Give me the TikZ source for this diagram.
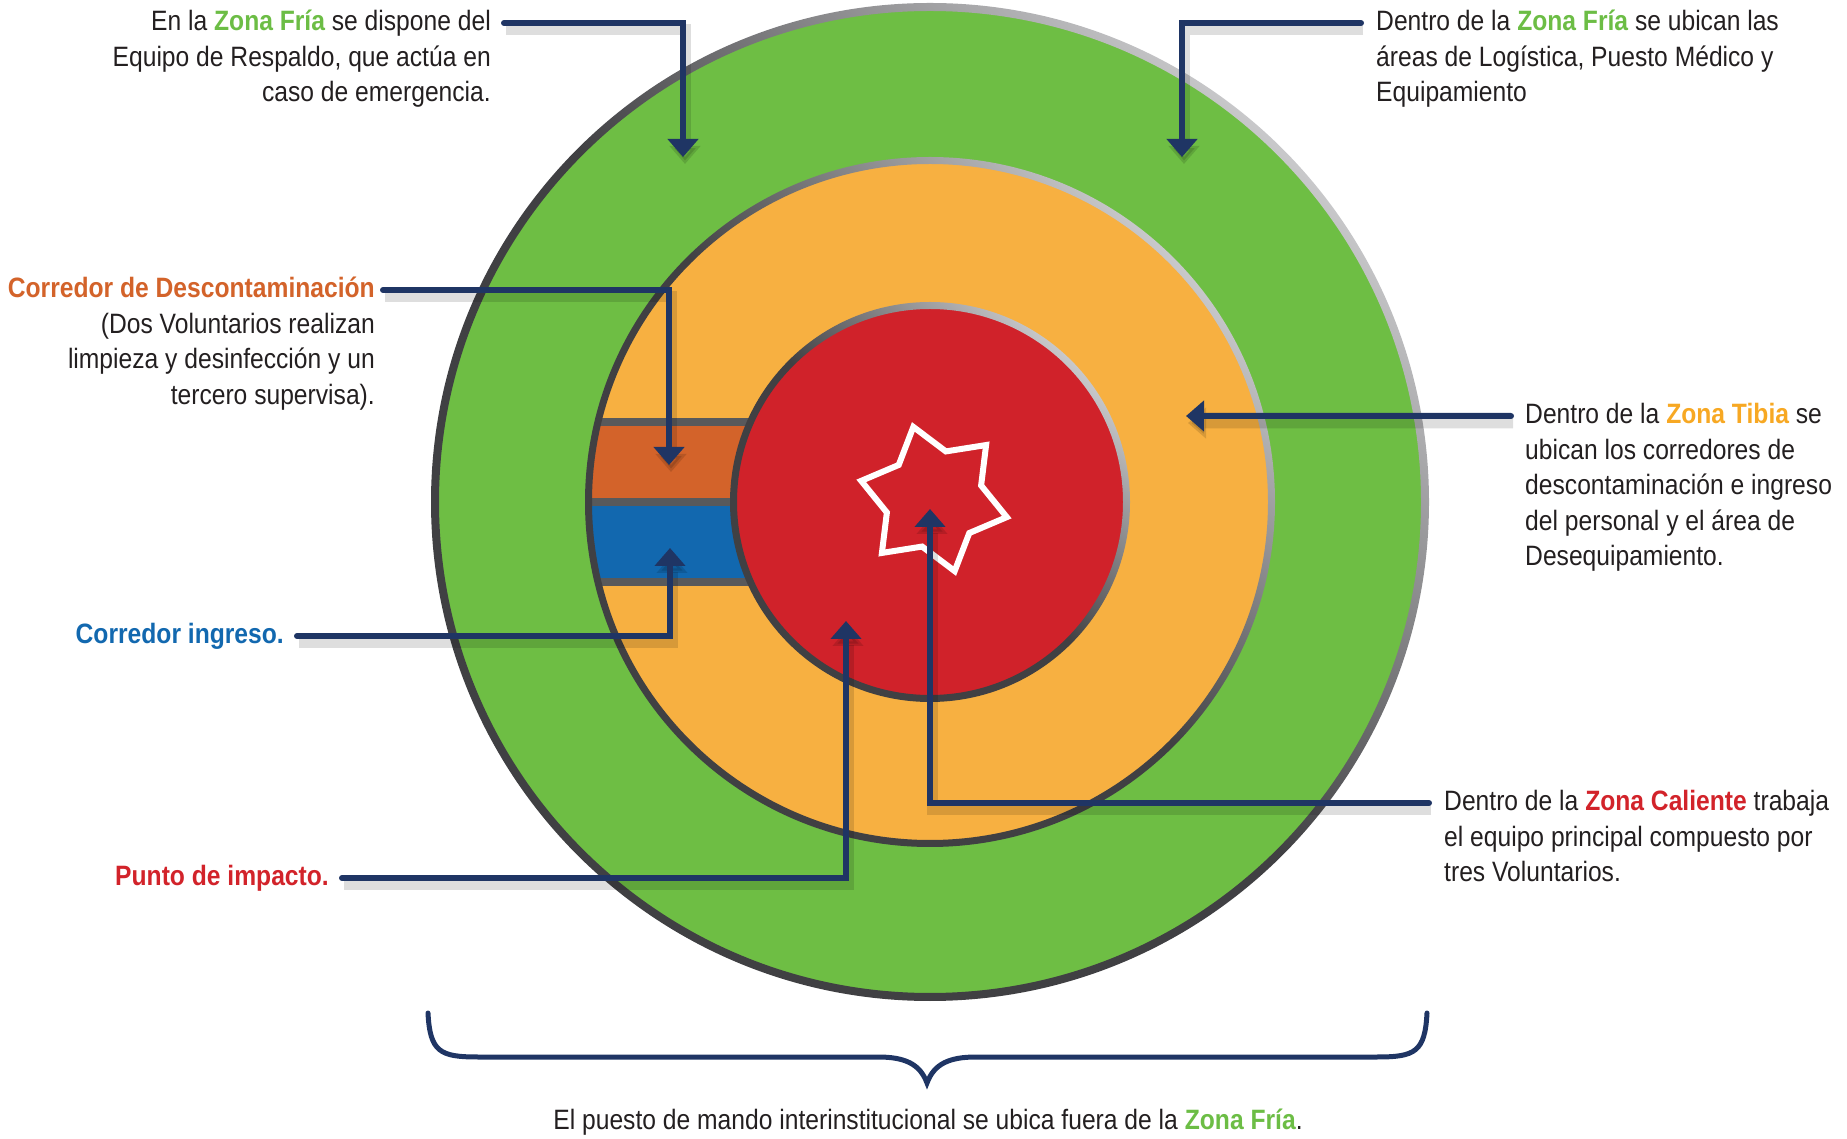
\documentclass[tikz,border=0pt]{standalone}
\usepackage{fontspec}
\setmainfont{Liberation Sans}[FakeStretch=0.88]
\usetikzlibrary{arrows.meta, shapes.geometric}

\definecolor{frio}{HTML}{6EBE44}
\definecolor{tibio}{HTML}{F7B041}
\definecolor{caliente}{HTML}{D0222A}
\definecolor{corrnaranja}{HTML}{D3632A}
\definecolor{corrazul}{HTML}{1268AF}
\definecolor{separa}{HTML}{58595B}
\definecolor{bordeoscuro}{HTML}{404043}
\definecolor{bordeclaro}{HTML}{C8C8CA}
\definecolor{marino}{HTML}{1F3564}
\definecolor{tinta}{HTML}{231F20}
\definecolor{txtfrio}{HTML}{6CBD45}
\definecolor{txttibio}{HTML}{F7A823}
\definecolor{txtcaliente}{HTML}{D2232A}

\newcommand\zona[2]{\textbf{\textcolor{#1}{#2}}}

\tikzset{
  borde/.style={top color=bordeclaro, bottom color=bordeoscuro, middle color=bordeoscuro, shading angle=-45},
  flecha/.style={draw=marino, line width=6bp, line cap=round, -{Triangle[width=30bp,length=18bp]},
    preaction={draw=black, opacity=.13, line width=11bp, transform canvas={shift={(2bp,-7bp)}}}},
  txt/.style={inner sep=0pt, text=tinta, font=\fontsize{28bp}{35.5bp}\selectfont},
  separador/.style={draw=separa, line width=8bp},
}

\begin{document}
\begin{tikzpicture}[x=1bp, y=1bp]
	\useasboundingbox (0,0) rectangle (1847,1138);
	\coordinate (centro) at (930,636);

	% zonas
	\fill[frio] (centro) circle (496);
	\shade[even odd rule, borde] (centro) circle (499) circle (491);
	\fill[tibio] (centro) circle (342);
	\begin{scope}
		\clip (centro) circle (339);
		\fill[corrnaranja] (560,636) rectangle (930,716);
		\fill[corrazul] (560,556) rectangle (930,636);
		\draw[separador] (560,716) -- (930,716);
		\draw[separador] (560,636) -- (930,636);
		\draw[separador] (560,556) -- (930,556);
	\end{scope}
	\shade[even odd rule, borde] (centro) circle (345) circle (338);
	\fill[caliente] (centro) circle (197);
	\shade[even odd rule, borde] (centro) circle (200) circle (193);
	\node[draw=white, line width=6bp, star, star points=6, star point ratio=1.53,
		minimum size=150bp, inner sep=0pt, shape border rotate=16] (estrella) at (934,639) {};

	% textos (base = ultima linea)
	\node[txt, align=right, anchor=base east] (respaldo) at (491,1036)
		{En la \zona{txtfrio}{Zona Fría} se dispone del\\Equipo de Respaldo, que actúa en\\caso de emergencia.};
	\node[txt, align=left, anchor=base west] (logistica) at (1376,1036)
		{Dentro de la \zona{txtfrio}{Zona Fría} se ubican las\\áreas de Logística, Puesto Médico y\\Equipamiento};
	\node[txt, align=right, anchor=base east] (descon) at (375,733.5)
		{\zona{corrnaranja}{Corredor de Descontaminación}\\(Dos Voluntarios realizan\\limpieza y desinfección y un\\tercero supervisa).};
	\node[txt, anchor=base east] (ingreso) at (284,494) {\zona{corrazul}{Corredor ingreso.}};
	\node[txt, anchor=base east] (punto) at (329,252) {\zona{txtcaliente}{Punto de impacto.}};
	\node[txt, align=left, anchor=base west] (tibia) at (1525,572)
		{Dentro de la \zona{txttibio}{Zona Tibia} se\\ubican los corredores de\\descontaminación e ingreso\\del personal y el área de\\Desequipamiento.};
	\node[txt, align=left, anchor=base west] (principal) at (1444,256)
		{Dentro de la \zona{txtcaliente}{Zona Caliente} trabaja\\el equipo principal compuesto por\\tres Voluntarios.};
	\node[txt, anchor=base] (mando) at (928,9)
		{El puesto de mando interinstitucional se ubica fuera de la \zona{txtfrio}{Zona Fría}.};

	% flechas
	\coordinate (fria1) at (683,981);
	\coordinate (fria2) at (1182,981);
	\coordinate (corr1) at (669,673);
	\coordinate (corr2) at (670,590);
	\coordinate (rojo) at (846,517);
	\coordinate (anillo) at (1186,722);
	\coordinate (centro2) at (930,629);
	\draw[flecha] ([xshift=13bp,yshift=79bp]respaldo.base east) -| (fria1);
	\draw[flecha] ([xshift=-15bp,yshift=79bp]logistica.base west) -| (fria2);
	\draw[flecha] ([xshift=8bp,yshift=114.5bp]descon.base east) -| (corr1);
	\draw[flecha] ([xshift=13bp,yshift=8bp]ingreso.base east) -| (corr2);
	\draw[flecha] ([xshift=13bp,yshift=8bp]punto.base east) -| (rojo);
	\draw[flecha] ([xshift=-14bp,yshift=150bp]tibia.base west) -- (anillo);
	\draw[flecha] ([xshift=-15bp,yshift=79bp]principal.base west) -| (centro2);

	% llave
	\draw[marino, line width=5bp, line cap=round] (428,125) .. controls (430,86) and (440,81) .. (478,81)
		-- (878,81) .. controls (905,81) and (920,74) .. (927,55) .. controls (934,74) and (949,81) .. (976,81)
		-- (1377,81) .. controls (1415,81) and (1425,86) .. (1427,125);
\end{tikzpicture}
\end{document}
